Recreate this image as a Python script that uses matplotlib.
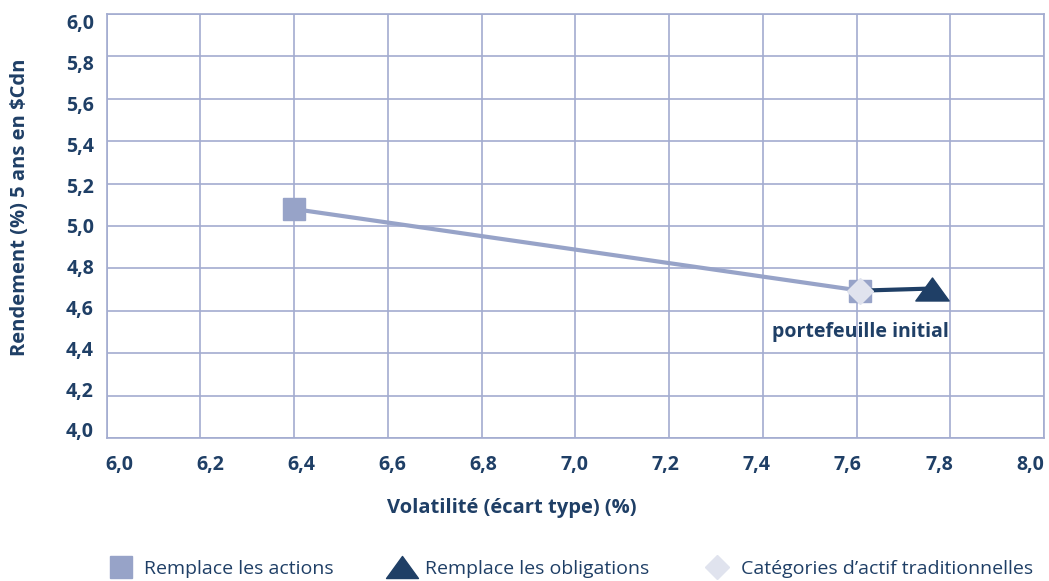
import matplotlib.pyplot as plt
from matplotlib.lines import Line2D
from matplotlib.path import Path
from matplotlib.ticker import FuncFormatter
from matplotlib.transforms import ScaledTranslation

# data
actions_x = [6.40, 7.608]
actions_y = [5.08, 4.695]
obligations_x = [7.608, 7.76]
obligations_y = [4.695, 4.705]
traditional_x = [7.608]
traditional_y = [4.695]

x_ticks = [6.0, 6.2, 6.4, 6.6, 6.8, 7.0, 7.2, 7.4, 7.6, 7.8, 8.0]
y_ticks = [4.0, 4.2, 4.4, 4.6, 4.8, 5.0, 5.2, 5.4, 5.6, 5.8, 6.0]

light = "#97a3c8"
dark = "#1f3f66"
pale = "#e0e3ee"
grid_col = "#a3acd0"

# wide, flat triangle like the reference
tri = Path([(-1, -0.69), (1, -0.69), (0, 0.69), (-1, -0.69)],
           [Path.MOVETO, Path.LINETO, Path.LINETO, Path.CLOSEPOLY])

plt.rcParams["font.family"] = ["Open Sans", "DejaVu Sans"]

fig = plt.figure(figsize=(10.49, 5.81), dpi=100)
ax = fig.add_axes([106.5 / 1049, 143 / 581, 937.5 / 1049, 424 / 581])

ax.plot(actions_x, actions_y, color=light, lw=3, marker="s", ms=16.5,
        mfc=light, mec=light, zorder=3)
ax.plot(obligations_x, obligations_y, color=dark, lw=3, marker=tri, ms=24,
        mfc=dark, mec=dark, markevery=[1], zorder=4)
ax.plot(traditional_x, traditional_y, ls="none", marker="D", ms=13.5,
        mfc=pale, mec=pale, zorder=5)

ax.annotate("portefeuille initial", (traditional_x[0], traditional_y[0]),
            textcoords="offset points", xytext=(0, -30), ha="center", va="center",
            fontsize=14, fontweight="bold", color=dark)

ax.set_xlim(6.0, 8.0)
ax.set_ylim(4.0, 6.0)
ax.set_xticks(x_ticks)
ax.set_yticks(y_ticks)
fmt = FuncFormatter(lambda v, p: f"{v:.1f}".replace(".", ","))
ax.xaxis.set_major_formatter(fmt)
ax.yaxis.set_major_formatter(fmt)
ax.tick_params(length=0, labelsize=14, labelcolor=dark)
ax.tick_params(axis="x", pad=12)
ax.tick_params(axis="y", pad=9)

# the reference squeezes its tick labels slightly inward
for i, lab in enumerate(ax.get_xticklabels()):
    lab.set_fontweight("bold")
    lab.set_transform(lab.get_transform() +
                      ScaledTranslation((13 - 2.7 * i) / 100, 0, fig.dpi_scale_trans))
for i, lab in enumerate(ax.get_yticklabels()):
    lab.set_fontweight("bold")
    lab.set_transform(lab.get_transform() +
                      ScaledTranslation(0, (8 - 1.6 * i) / 100, fig.dpi_scale_trans))

ax.grid(True, color=grid_col, lw=1.2)
ax.set_axisbelow(True)
for s in ax.spines.values():
    s.set_color(grid_col)
    s.set_linewidth(1.2)

fig.text(512 / 1049, 1 - 508 / 581, "Volatilité (écart type) (%)", ha="center",
         va="center", fontsize=14.5, fontweight="bold", color=dark)
fig.text(20 / 1049, 1 - 207 / 581, "Rendement (%) 5 ans en $Cdn", ha="center",
         va="center", rotation=90, fontsize=14.5, fontweight="bold", color=dark)

handles = [
    Line2D([], [], ls="none", marker="s", ms=16.5, mfc=light, mec=light),
    Line2D([], [], ls="none", marker=tri, ms=23, mfc=dark, mec=dark),
    Line2D([], [], ls="none", marker="D", ms=12.5, mfc=pale, mec=pale),
]
labels = ["Remplace les actions", "Remplace les obligations",
          "Catégories d’actif traditionnelles"]
fig.legend(handles, labels, loc="center left", bbox_to_anchor=(109 / 1049, 1 - 569 / 581),
           ncol=3, frameon=False, fontsize=14, labelcolor=dark,
           handletextpad=0.6, columnspacing=2.9, handlelength=1.2,
           borderpad=0, borderaxespad=0)

fig.savefig("out.png", dpi=100)
